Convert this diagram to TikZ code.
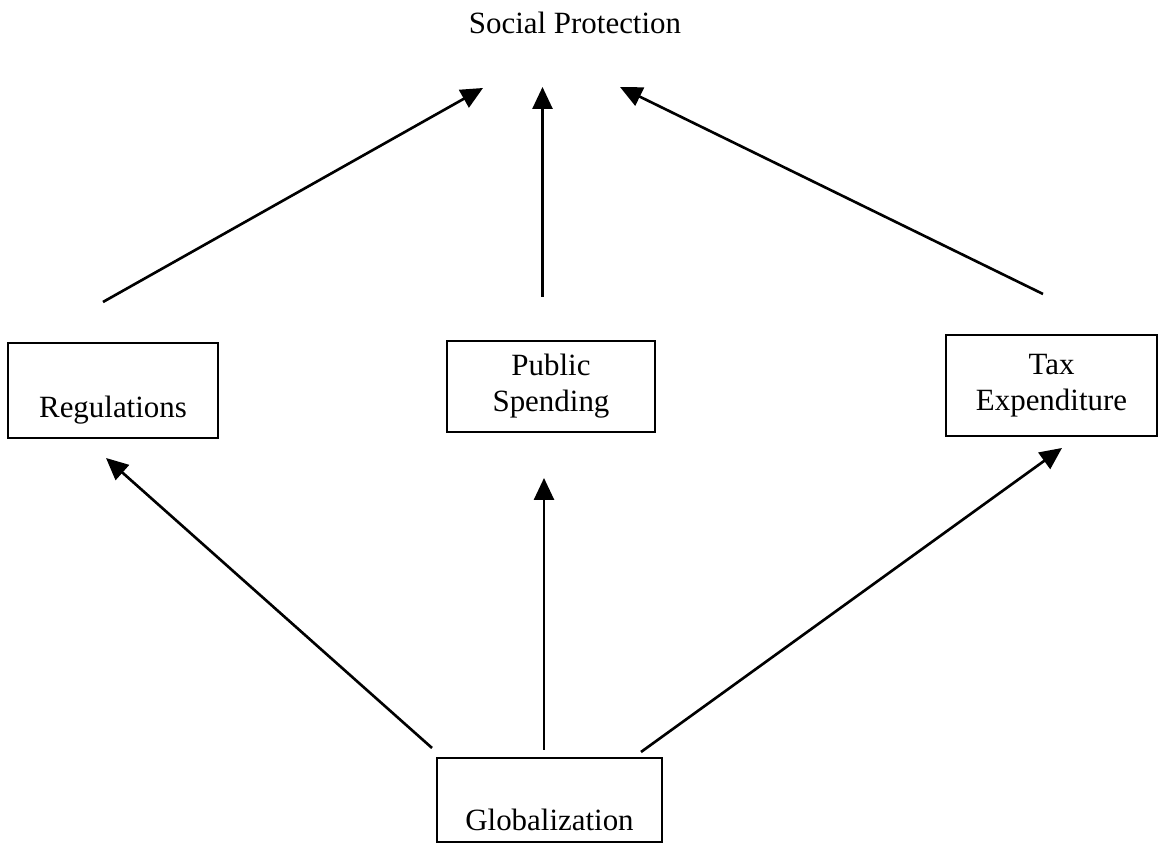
\documentclass[tikz,border=0pt]{standalone}
\usepackage{fontspec}
\setmainfont{Liberation Serif}
\usepackage{tikz}
\usetikzlibrary{arrows.meta}

\tikzset{
  kasten/.style={draw, line width=1pt, align=center, inner sep=0pt},
  pfeil/.style={-{Triangle[length=0.44cm,width=0.4cm]}, line width=1.5pt}
}

\begin{document}
\begin{tikzpicture}
\fontsize{17.6}{20.5}\selectfont
\useasboundingbox (0,0) rectangle (23.2,16.9);

%Knoten
\node (SP) at (11.5,16.44) {Social Protection};
\node[kasten, minimum width=4.2cm, minimum height=1.9cm] (R) at (2.26,9.09) {\strut\\Regulations};
\node[kasten, minimum width=4.16cm, minimum height=1.82cm] (P) at (11.02,9.17) {Public\\Spending};
\node[kasten, minimum width=4.22cm, minimum height=2.02cm] (T) at (21.03,9.19) {Tax\\Expenditure};
\node[kasten, minimum width=4.5cm, minimum height=1.68cm] (G) at (10.99,0.9) {\strut\\Globalization};

%Koordinaten für die Pfeile
\coordinate (R1) at (2.06,10.86);
\coordinate (SP1) at (9.66,15.14);
\coordinate (P1) at (10.85,10.96);
\coordinate (SP2) at (10.85,15.16);
\coordinate (T1) at (20.86,11.02);
\coordinate (SP3) at (12.4,15.16);

\coordinate (G1) at (8.64,1.94);
\coordinate (R2) at (2.12,7.74);
\coordinate (G2) at (10.88,1.9);
\coordinate (P2) at (10.88,7.34);
\coordinate (G3) at (12.82,1.86);
\coordinate (T2) at (21.24,7.94);

\draw[pfeil] (R1) -- (SP1);
\draw[pfeil] (P1) -- (SP2);
\draw[pfeil] (T1) -- (SP3);
\draw[pfeil] (G1) -- (R2);
\draw[pfeil] (G2) -- (P2);
\draw[pfeil] (G3) -- (T2);
\end{tikzpicture}
\end{document}
